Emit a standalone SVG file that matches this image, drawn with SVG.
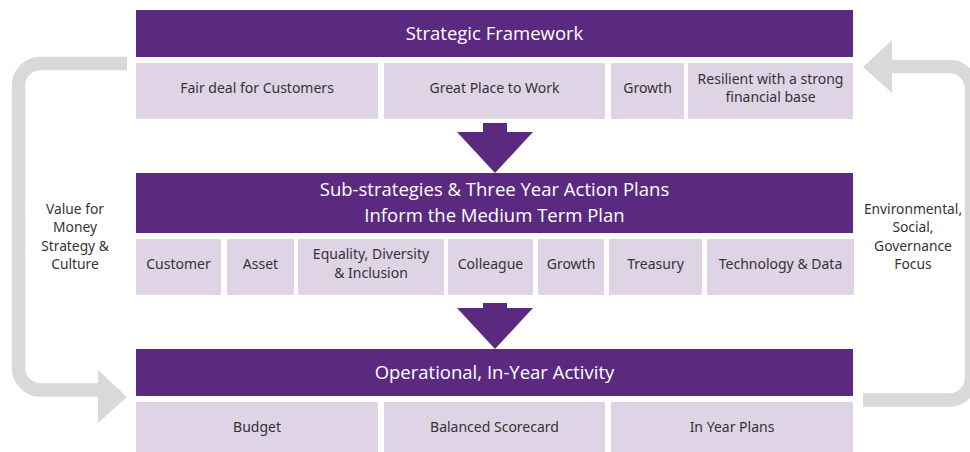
<svg xmlns="http://www.w3.org/2000/svg" width="970" height="452" viewBox="0 0 970 452">
  <style>
    .bar { fill: #5B2A80; }
    .cell { fill: #DFD4E6; }
    .head { font-family: "Open Sans", "Liberation Sans", sans-serif; font-size: 18.5px; fill: #FFFFFF; text-anchor: middle; }
    .lbl { font-family: "Noto Sans", "Liberation Sans", sans-serif; font-size: 14px; fill: #333333; text-anchor: middle; }
    .side { font-family: "Noto Sans", "Liberation Sans", sans-serif; font-size: 13.8px; fill: #333333; text-anchor: middle; }
    .loop { fill: none; stroke: #D9D9D9; stroke-width: 13.5; }
    .loophead { fill: #D9D9D9; }
    .down { fill: #5B2A80; }
  </style>
  <rect width="970" height="452" fill="#FFFFFF"/>

  <!-- feedback loops and downward arrows -->
  <g id="connectors">
    <path class="loop" d="M127 63.5 H40.5 A22 22 0 0 0 18.5 85.5 V368 A22 22 0 0 0 40.5 390 H100"/>
    <polygon class="loophead" points="98,370 127,397 98,423"/>
    <path class="loop" d="M863 400 H949.5 A22 22 0 0 0 971.5 378 V88.5 A22 22 0 0 0 949.5 66.5 H890"/>
    <polygon class="loophead" points="892,40 863,67 892,93"/>
    <polygon class="down" points="483,123 507,123 507,132 533,132 495,173 457,132 483,132"/>
    <polygon class="down" points="483,303 507,303 507,308 533,308 495,349 457,308 483,308"/>
  </g>

  <!-- tier 1 -->
  <g id="strategic-framework">
    <rect class="bar" x="136" y="10" width="717" height="47"/>
    <text class="head" x="494.5" y="40">Strategic Framework</text>
  </g>
  <g id="fair-deal">
    <rect class="cell" x="136" y="63" width="242" height="56"/>
    <text class="lbl" x="257" y="93">Fair deal for Customers</text>
  </g>
  <g id="great-place">
    <rect class="cell" x="384" y="63" width="221" height="56"/>
    <text class="lbl" x="494.5" y="93">Great Place to Work</text>
  </g>
  <g id="growth-1">
    <rect class="cell" x="611" y="63" width="73" height="56"/>
    <text class="lbl" x="647.5" y="93">Growth</text>
  </g>
  <g id="resilient">
    <rect class="cell" x="688" y="63" width="165" height="56"/>
    <text class="lbl" x="770.5" y="84">Resilient with a strong</text>
    <text class="lbl" x="770.5" y="102">financial base</text>
  </g>

  <!-- tier 2 -->
  <g id="sub-strategies">
    <rect class="bar" x="136" y="173" width="717" height="60"/>
    <text class="head" x="494.5" y="196">Sub-strategies &amp; Three Year Action Plans</text>
    <text class="head" x="494.5" y="222">Inform the Medium Term Plan</text>
  </g>
  <g id="customer">
    <rect class="cell" x="136" y="239" width="85" height="56"/>
    <text class="lbl" x="178.5" y="269">Customer</text>
  </g>
  <g id="asset">
    <rect class="cell" x="227" y="239" width="67" height="56"/>
    <text class="lbl" x="260.5" y="269">Asset</text>
  </g>
  <g id="equality">
    <rect class="cell" x="298" y="239" width="146" height="56"/>
    <text class="lbl" x="371" y="259">Equality, Diversity</text>
    <text class="lbl" x="371" y="278">&amp; Inclusion</text>
  </g>
  <g id="colleague">
    <rect class="cell" x="448" y="239" width="85" height="56"/>
    <text class="lbl" x="490.5" y="269">Colleague</text>
  </g>
  <g id="growth-2">
    <rect class="cell" x="538" y="239" width="66" height="56"/>
    <text class="lbl" x="571" y="269">Growth</text>
  </g>
  <g id="treasury">
    <rect class="cell" x="609" y="239" width="93" height="56"/>
    <text class="lbl" x="655.5" y="269">Treasury</text>
  </g>
  <g id="technology">
    <rect class="cell" x="707" y="239" width="147" height="56"/>
    <text class="lbl" x="780.5" y="269">Technology &amp; Data</text>
  </g>

  <!-- tier 3 -->
  <g id="operational">
    <rect class="bar" x="136" y="349" width="717" height="47"/>
    <text class="head" x="494.5" y="379">Operational, In-Year Activity</text>
  </g>
  <g id="budget">
    <rect class="cell" x="136" y="402" width="242" height="50"/>
    <text class="lbl" x="257" y="432">Budget</text>
  </g>
  <g id="scorecard">
    <rect class="cell" x="384" y="402" width="221" height="50"/>
    <text class="lbl" x="494.5" y="432">Balanced Scorecard</text>
  </g>
  <g id="in-year-plans">
    <rect class="cell" x="611" y="402" width="242" height="50"/>
    <text class="lbl" x="732" y="432">In Year Plans</text>
  </g>

  <!-- loop labels -->
  <g id="value-for-money">
    <text class="side" x="75" y="214">Value for</text>
    <text class="side" x="75" y="232">Money</text>
    <text class="side" x="75" y="251">Strategy &amp;</text>
    <text class="side" x="75" y="269">Culture</text>
  </g>
  <g id="esg-focus">
    <text class="side" x="913" y="214">Environmental,</text>
    <text class="side" x="913" y="232">Social,</text>
    <text class="side" x="913" y="251">Governance</text>
    <text class="side" x="913" y="269">Focus</text>
  </g>
</svg>
